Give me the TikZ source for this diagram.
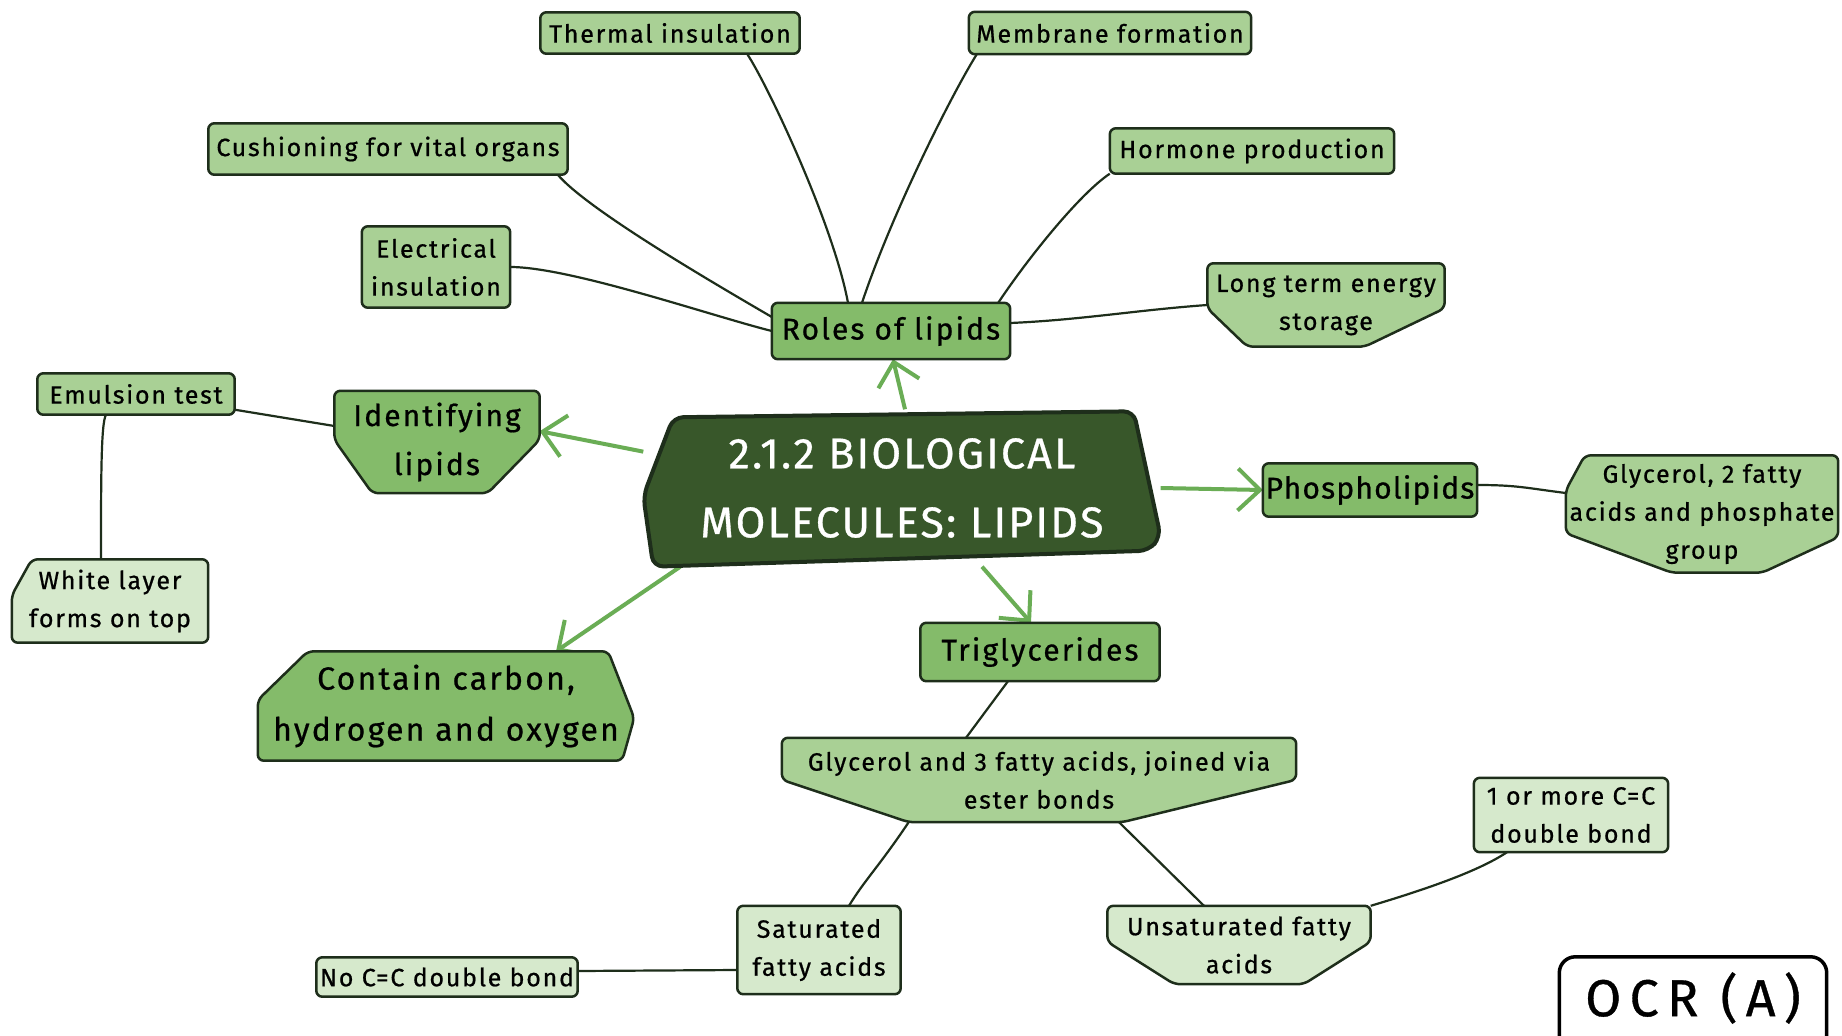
\documentclass[tikz,border=0pt]{standalone}
\usepackage{fontspec}
\setmainfont{Fira Sans}[LetterSpace=7, FakeBold=0.7]
\usetikzlibrary{calc,arrows.meta}
\pgfdeclarelayer{bg}\pgfdeclarelayer{mid}
\pgfsetlayers{bg,mid,main}
\definecolor{dk}{HTML}{38572A}
\definecolor{md}{HTML}{84BB6A}
\definecolor{lt}{HTML}{A9D095}
\definecolor{vl}{HTML}{D6E9CC}
\definecolor{edge}{HTML}{1E2E1B}
\definecolor{arrg}{HTML}{6AAD55}
\tikzset{
 base/.style={inner sep=0pt, align=center, text=black},
 lvA/.style={base, font=\fontsize{25}{38}\selectfont},
 lvB/.style={base, font=\fontsize{30}{49}\selectfont},
 shp/.style={draw=edge, line width=2.5pt, rounded corners=6pt, line join=round},
 link/.style={draw=edge, line width=2.2pt},
 garrow/.style={draw=arrg, line width=4pt, -{Straight Barb[length=22pt,width=42pt]}},
}
\newcommand\rbox[2]{\path[shp,fill=#2] (#1.north west) rectangle (#1.south east);}
\newcommand\tapb[5]{\path[shp,fill=#2] (#1.north west) -- (#1.north east) -- ($(#1.north east)+(0,#3)$) -- ($(#1.south east)+(-#5,0)$) -- ($(#1.south west)+(#4,0)$) -- ($(#1.north west)+(0,#3)$) -- cycle;}
\begin{document}
\begin{tikzpicture}[x=1pt,y=-1pt]
\useasboundingbox (0,0) rectangle (1842,1036);
% nodes
\node[base, text=white, font=\fontsize{43}{69}\selectfont\addfontfeature{LetterSpace=5}, minimum width=517pt, minimum height=157pt] (main) at (902,488) {2.1.2 BIOLOGICAL\\MOLECULES: LIPIDS};
\node[lvB, minimum width=238pt, minimum height=56pt] (roles) at (891,331) {Roles of lipids};
\node[lvB, font=\fontsize{30}{49}\selectfont\addfontfeature{LetterSpace=4}, minimum width=214pt, minimum height=53pt] (phospho) at (1370,490) {Phospholipids};
\node[lvB, minimum width=239pt, minimum height=58pt] (trig) at (1040,652) {Triglycerides};
\node[lvB, minimum width=205pt, minimum height=102pt] (ident) at (437,442) {Identifying\\lipids};
\node[lvB, font=\fontsize{32}{51}\selectfont, minimum width=376pt, minimum height=109pt] (carbon) at (446,706) {Contain carbon,\\hydrogen and oxygen};
\node[lvA, minimum width=259pt, minimum height=41pt] (thermal) at (670,33) {Thermal insulation};
\node[lvA, minimum width=282pt, minimum height=42pt] (membrane) at (1110,33) {Membrane formation};
\node[lvA, minimum width=359pt, minimum height=51pt] (cushion) at (388,149) {Cushioning for vital organs};
\node[lvA, minimum width=284pt, minimum height=45pt] (hormone) at (1252,151) {Hormone production};
\node[lvA, minimum width=148pt, minimum height=81pt] (elec) at (436,267) {Electrical\\insulation};
\node[lvA, minimum width=237pt, minimum height=83pt] (longterm) at (1326,305) {Long term energy\\storage};
\node[lvA, minimum width=197pt, minimum height=41pt] (emulsion) at (136,394) {Emulsion test};
\node[lvA, minimum width=272pt, minimum height=117pt] (glyc2) at (1702,514) {Glycerol, 2 fatty\\acids and phosphate\\group};
\node[lvA, minimum width=514pt, minimum height=84pt] (glyc3) at (1039,780) {Glycerol and 3 fatty acids, joined via\\ester bonds};
\node[lvA, minimum width=196pt, minimum height=83pt] (white) at (110,601) {White layer\\forms on top};
\node[lvA, minimum width=163pt, minimum height=88pt] (sat) at (819,950) {Saturated\\fatty acids};
\node[lvA, minimum width=261pt, minimum height=39pt] (nocc) at (447,977) {No C=C double bond};
\node[lvA, minimum width=263pt, minimum height=78pt] (unsat) at (1239,945) {Unsaturated fatty\\acids};
\node[lvA, minimum width=194pt, minimum height=74pt] (onemore) at (1571,815) {1 or more C=C\\double bond};
\node[base, font=\fontsize{52}{60}\selectfont\addfontfeature{LetterSpace=16}, minimum width=267pt, minimum height=82pt] (ocr) at (1693,998) {OCR (A)};
% shapes
\begin{pgfonlayer}{mid}
\path[draw=edge, line width=4pt, fill=dk, rounded corners=10pt, line join=round] ($(main.north west)+(30,8)$) -- ($(main.north east)+(-27,2)$) -- ($(main.south east)+(0,-30)$) -- ($(main.south east)+(-12,-16)$) -- ($(main.south west)+(10,0)$) -- ($(main.west)+(0,8)$) -- cycle;
\rbox{roles}{md}
\rbox{phospho}{md}
\rbox{trig}{md}
\tapb{ident}{md}{49}{38}{52}
\path[shp,fill=md] ($(carbon.north west)+(50,0)$) -- ($(carbon.north east)+(-26,0)$) -- ($(carbon.east)+(0,12)$) -- ($(carbon.south east)+(-12,0)$) -- (carbon.south west) -- ($(carbon.west)+(0,-6)$) -- cycle;
\rbox{thermal}{lt}
\rbox{membrane}{lt}
\rbox{cushion}{lt}
\rbox{hormone}{lt}
\rbox{elec}{lt}
\tapb{longterm}{lt}{45}{40}{80}
\rbox{emulsion}{lt}
\path[shp,fill=lt] ($(glyc2.north west)+(19,0)$) -- (glyc2.north east) -- ($(glyc2.north east)+(0,82)$) -- ($(glyc2.south east)+(-76,0)$) -- ($(glyc2.south west)+(106,0)$) -- ($(glyc2.north west)+(0,78)$) -- ($(glyc2.north west)+(0,35)$) -- cycle;
\tapb{glyc3}{lt}{42}{127}{174}
\path[shp,fill=vl] ($(white.north west)+(20,0)$) -- (white.north east) -- (white.south east) -- (white.south west) -- ($(white.north west)+(0,36)$) -- cycle;
\rbox{sat}{vl}
\rbox{nocc}{vl}
\tapb{unsat}{vl}{36}{67}{67}
\rbox{onemore}{vl}
\path[draw=black, line width=3.5pt, fill=white, rounded corners=16pt] (ocr.north west) rectangle ($(ocr.south east)+(0,40)$);
\end{pgfonlayer}
% connectors
\begin{pgfonlayer}{bg}
\fill[white] (0,0) rectangle (1842,1036);
\draw[garrow] ($(main.north)+(3,0)$) -- ($(roles.south)+(2,0)$);
\draw[garrow] (main.172) -- (ident.6);
\draw[garrow] (main.east) -- (phospho.west);
\draw[garrow] ($(main.south)+(80,0)$) -- ($(trig.north)+(-9,0)$);
\draw[garrow] ($(main.south west)+(37,0)$) -- ($(carbon.north)+(110,0)$);
\draw[link] ($(roles.north)+(-43,0)$) .. controls +(-15,-80) and +(20,30) .. ($(thermal.south)+(77,0)$);
\draw[link] ($(roles.north)+(-29,0)$) .. controls +(30,-90) and +(-25,40) .. ($(membrane.south west)+(8,0)$);
\draw[link] ($(roles.west)+(0,-14)$) .. controls +(-60,-35) and +(30,35) .. ($(cushion.south east)+(-10,0)$);
\draw[link] (roles.west) .. controls +(-60,-15) and +(60,0) .. (elec.east);
\draw[link] ($(roles.north east)+(-12,0)$) .. controls +(30,-45) and +(-30,20) .. (hormone.south west);
\draw[link] ($(roles.east)+(0,-8)$) .. controls +(70,-3) and +(-70,5) .. (longterm.west);
\draw[link] ($(ident.west)+(0,-16)$) -- ($(emulsion.south east)+(0,-5)$);
\draw[link] ($(emulsion.south)+(-30,0)$) .. controls +(-5,8) and +(0,-80) .. ($(white.north)+(-9,0)$);
\draw[link] ($(phospho.east)+(0,-5)$) .. controls +(40,0) and +(-40,-5) .. ($(glyc2.west)+(0,-21)$);
\draw[link] ($(trig.south)+(-32,0)$) -- ($(glyc3.north)+(-73,0)$);
\draw[link] ($(glyc3.south)+(-129,-2)$) .. controls +(-30,45) and +(15,-25) .. ($(sat.north)+(30,0)$);
\draw[link] ($(glyc3.south)+(80,0)$) -- ($(unsat.north)+(-35,0)$);
\draw[link] ($(sat.west)+(0,20)$) -- ($(nocc.east)+(0,-6)$);
\draw[link] (unsat.north east) .. controls +(50,-15) and +(-30,20) .. ($(onemore.south)+(-64,0)$);
\end{pgfonlayer}
\end{tikzpicture}
\end{document}
